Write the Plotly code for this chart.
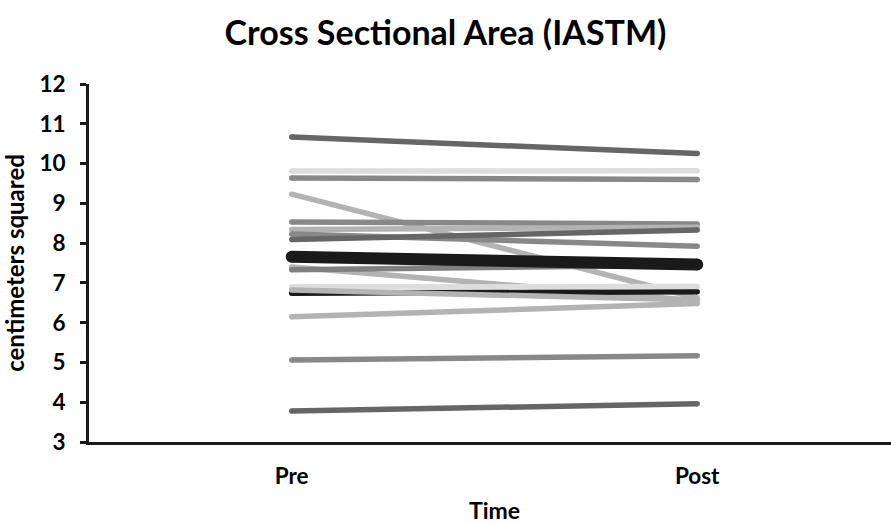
import plotly.graph_objects as go

categories = ["Pre", "Post"]

pre_values = [10.67, 9.81, 9.64, 9.23, 8.53, 8.34, 8.23, 8.09, 7.40, 7.33, 6.74, 6.90, 6.82, 6.15, 5.06, 3.78, 7.66]
post_values = [10.25, 9.82, 9.60, 6.62, 8.48, 8.40, 7.92, 8.33, 6.55, 7.45, 6.78, 6.91, 6.57, 6.48, 5.17, 3.96, 7.46]
line_colors = ["#666666", "#dddddd", "#888888", "#b3b3b3", "#888888", "#b3b3b3", "#888888", "#666666",
               "#b3b3b3", "#808080", "#1a1a1a", "#dddddd", "#b3b3b3", "#b3b3b3", "#888888", "#666666", "#1a1a1a"]
line_widths = [5.5] * 16 + [12]

y_ticks = [3, 4, 5, 6, 7, 8, 9, 10, 11, 12]

FONT = "Lato"

fig = go.Figure()
for pre, post, color, width in zip(pre_values, post_values, line_colors, line_widths):
    fig.add_trace(go.Scatter(
        x=categories, y=[pre, post], mode="lines+markers",
        line=dict(color=color, width=width),
        marker=dict(color=color, size=width, line=dict(width=0)),
        showlegend=False, hoverinfo="skip",
    ))

fig.update_layout(
    width=891, height=523,
    margin=dict(l=89, r=0, t=84, b=81),
    paper_bgcolor="white", plot_bgcolor="white",
    font=dict(family=FONT, color="black"),
    title=dict(text="<b>Cross Sectional Area (IASTM)</b>", x=0.5, xref="container", xanchor="center",
               y=0.937, yref="container", yanchor="middle",
               font=dict(family=FONT, size=34, color="black")),
    xaxis=dict(
        type="category", range=[-0.5, 1.478],
        showline=True, linecolor="#1a1a1a", linewidth=3,
        showgrid=False, zeroline=False, ticks="",
        tickfont=dict(family=FONT, size=22.5, color="black", weight="bold"),
        ticklabelstandoff=12,
    ),
    yaxis=dict(
        range=[3, 12], tickvals=y_ticks,
        showline=True, linecolor="#1a1a1a", linewidth=3,
        showgrid=False, zeroline=False,
        ticks="outside", ticklen=6, tickwidth=3, tickcolor="#1a1a1a",
        tickfont=dict(family=FONT, size=22.5, color="black", weight="bold"),
        ticklabelstandoff=10,
        title=dict(text="<b>centimeters squared</b>", font=dict(family=FONT, size=24, color="black"), standoff=9),
    ),
    annotations=[dict(
        text="<b>Time</b>", x=0.5, xref="x", y=-(510 - 442) / (442 - 84), yref="paper", showarrow=False,
        font=dict(family=FONT, size=23, color="black"), yanchor="middle",
    )],
)

fig.write_html("out.html")
